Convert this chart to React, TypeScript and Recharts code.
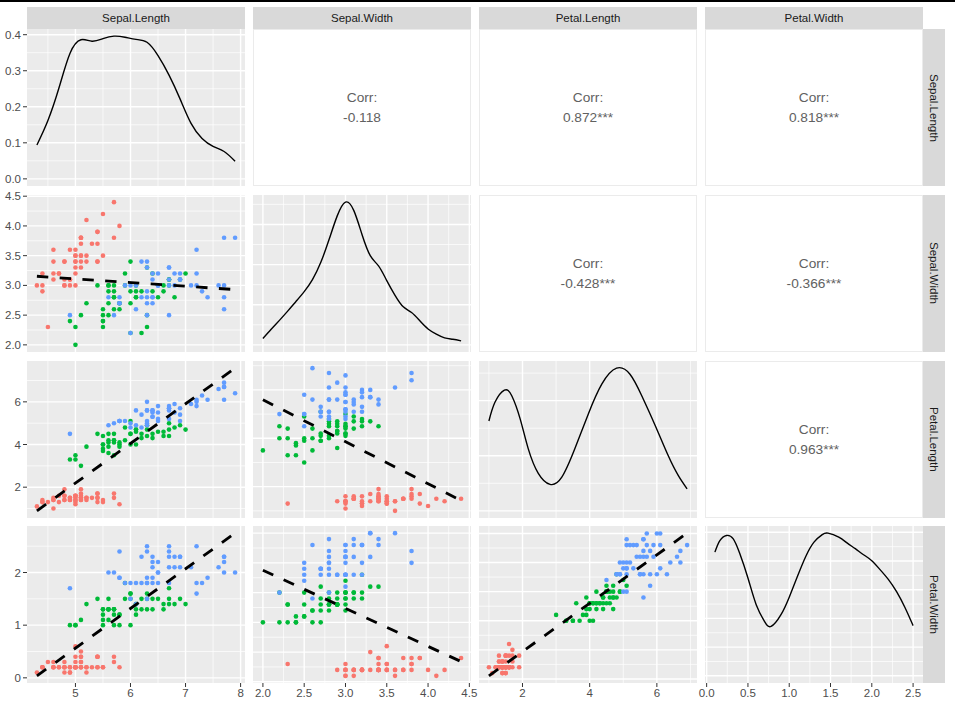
import React from 'react';
import { ComposedChart, Scatter, Line, XAxis, YAxis, CartesianGrid } from 'recharts';

// Edgar Anderson's iris measurements, rows 1-150 (50 setosa, 50 versicolor, 50 virginica)
const sepalLength = [
  5.1, 4.9, 4.7, 4.6, 5.0, 5.4, 4.6, 5.0, 4.4, 4.9, 5.4, 4.8, 4.8, 4.3, 5.8, 5.7, 5.4, 5.1, 5.7, 5.1,
  5.4, 5.1, 4.6, 5.1, 4.8, 5.0, 5.0, 5.2, 5.2, 4.7, 4.8, 5.4, 5.2, 5.5, 4.9, 5.0, 5.5, 4.9, 4.4, 5.1,
  5.0, 4.5, 4.4, 5.0, 5.1, 4.8, 5.1, 4.6, 5.3, 5.0,
  7.0, 6.4, 6.9, 5.5, 6.5, 5.7, 6.3, 4.9, 6.6, 5.2, 5.0, 5.9, 6.0, 6.1, 5.6, 6.7, 5.6, 5.8, 6.2, 5.6,
  5.9, 6.1, 6.3, 6.1, 6.4, 6.6, 6.8, 6.7, 6.0, 5.7, 5.5, 5.5, 5.8, 6.0, 5.4, 6.0, 6.7, 6.3, 5.6, 5.5,
  5.5, 6.1, 5.8, 5.0, 5.6, 5.7, 5.7, 6.2, 5.1, 5.7,
  6.3, 5.8, 7.1, 6.3, 6.5, 7.6, 4.9, 7.3, 6.7, 7.2, 6.5, 6.4, 6.8, 5.7, 5.8, 6.4, 6.5, 7.7, 7.7, 6.0,
  6.9, 5.6, 7.7, 6.3, 6.7, 7.2, 6.2, 6.1, 6.4, 7.2, 7.4, 7.9, 6.4, 6.3, 6.1, 7.7, 6.3, 6.4, 6.0, 6.9,
  6.7, 6.9, 5.8, 6.8, 6.7, 6.7, 6.3, 6.5, 6.2, 5.9,
];

const sepalWidth = [
  3.5, 3.0, 3.2, 3.1, 3.6, 3.9, 3.4, 3.4, 2.9, 3.1, 3.7, 3.4, 3.0, 3.0, 4.0, 4.4, 3.9, 3.5, 3.8, 3.8,
  3.4, 3.7, 3.6, 3.3, 3.4, 3.0, 3.4, 3.5, 3.4, 3.2, 3.1, 3.4, 4.1, 4.2, 3.1, 3.2, 3.5, 3.6, 3.0, 3.4,
  3.5, 2.3, 3.2, 3.5, 3.8, 3.0, 3.8, 3.2, 3.7, 3.3,
  3.2, 3.2, 3.1, 2.3, 2.8, 2.8, 3.3, 2.4, 2.9, 2.7, 2.0, 3.0, 2.2, 2.9, 2.9, 3.1, 3.0, 2.7, 2.2, 2.5,
  3.2, 2.8, 2.5, 2.8, 2.9, 3.0, 2.8, 3.0, 2.9, 2.6, 2.4, 2.4, 2.7, 2.7, 3.0, 3.4, 3.1, 2.3, 3.0, 2.5,
  2.6, 3.0, 2.6, 2.3, 2.7, 3.0, 2.9, 2.9, 2.5, 2.8,
  3.3, 2.7, 3.0, 2.9, 3.0, 3.0, 2.5, 2.9, 2.5, 3.6, 3.2, 2.7, 3.0, 2.5, 2.8, 3.2, 3.0, 3.8, 2.6, 2.2,
  3.2, 2.8, 2.8, 2.7, 3.3, 3.2, 2.8, 3.0, 2.8, 3.0, 2.8, 3.8, 2.8, 2.8, 2.6, 3.0, 3.4, 3.1, 3.0, 3.1,
  3.1, 3.1, 2.7, 3.2, 3.3, 3.0, 2.5, 3.0, 3.4, 3.0,
];

const petalLength = [
  1.4, 1.4, 1.3, 1.5, 1.4, 1.7, 1.4, 1.5, 1.4, 1.5, 1.5, 1.6, 1.4, 1.1, 1.2, 1.5, 1.3, 1.4, 1.7, 1.5,
  1.7, 1.5, 1.0, 1.7, 1.9, 1.6, 1.6, 1.5, 1.4, 1.6, 1.6, 1.5, 1.5, 1.4, 1.5, 1.2, 1.3, 1.4, 1.3, 1.5,
  1.3, 1.3, 1.3, 1.6, 1.9, 1.4, 1.6, 1.4, 1.5, 1.4,
  4.7, 4.5, 4.9, 4.0, 4.6, 4.5, 4.7, 3.3, 4.6, 3.9, 3.5, 4.2, 4.0, 4.7, 3.6, 4.4, 4.5, 4.1, 4.5, 3.9,
  4.8, 4.0, 4.9, 4.7, 4.3, 4.4, 4.8, 5.0, 4.5, 3.5, 3.8, 3.7, 3.9, 5.1, 4.5, 4.5, 4.7, 4.4, 4.1, 4.0,
  4.4, 4.6, 4.0, 3.3, 4.2, 4.2, 4.2, 4.3, 3.0, 4.1,
  6.0, 5.1, 5.9, 5.6, 5.8, 6.6, 4.5, 6.3, 5.8, 6.1, 5.1, 5.3, 5.5, 5.0, 5.1, 5.3, 5.5, 6.7, 6.9, 5.0,
  5.7, 4.9, 6.7, 4.9, 5.7, 6.0, 4.8, 4.9, 5.6, 5.8, 6.1, 6.4, 5.6, 5.1, 5.6, 6.1, 5.6, 5.5, 4.8, 5.4,
  5.6, 5.1, 5.1, 5.9, 5.7, 5.2, 5.0, 5.2, 5.4, 5.1,
];

const petalWidth = [
  0.2, 0.2, 0.2, 0.2, 0.2, 0.4, 0.3, 0.2, 0.2, 0.1, 0.2, 0.2, 0.1, 0.1, 0.2, 0.4, 0.4, 0.3, 0.3, 0.3,
  0.2, 0.4, 0.2, 0.5, 0.2, 0.2, 0.4, 0.2, 0.2, 0.2, 0.2, 0.4, 0.1, 0.2, 0.2, 0.2, 0.2, 0.1, 0.2, 0.2,
  0.3, 0.3, 0.2, 0.6, 0.4, 0.3, 0.2, 0.2, 0.2, 0.2,
  1.4, 1.5, 1.5, 1.3, 1.5, 1.3, 1.6, 1.0, 1.3, 1.4, 1.0, 1.5, 1.0, 1.4, 1.3, 1.4, 1.5, 1.0, 1.5, 1.1,
  1.8, 1.3, 1.5, 1.2, 1.3, 1.4, 1.4, 1.7, 1.5, 1.0, 1.1, 1.0, 1.2, 1.6, 1.5, 1.6, 1.5, 1.3, 1.3, 1.3,
  1.2, 1.4, 1.2, 1.0, 1.3, 1.2, 1.3, 1.3, 1.1, 1.3,
  2.5, 1.9, 2.1, 1.8, 2.2, 2.1, 1.7, 1.8, 1.8, 2.5, 2.0, 1.9, 2.1, 2.0, 2.4, 2.3, 1.8, 2.2, 2.3, 1.5,
  2.3, 2.0, 2.0, 1.8, 2.1, 1.8, 1.8, 1.8, 2.1, 1.6, 1.9, 2.0, 2.2, 1.5, 1.4, 2.3, 2.4, 1.8, 1.8, 2.1,
  2.4, 2.3, 1.9, 2.3, 2.5, 2.3, 1.9, 2.0, 2.3, 1.8,
];

const speciesNames = ['setosa', 'versicolor', 'virginica'];
const speciesColors = ['#F8766D', '#00BA38', '#619CFF'];
const variableNames = ['Sepal.Length', 'Sepal.Width', 'Petal.Length', 'Petal.Width'];

// kernel density curves on the diagonal (x, density)
const sepalLengthDensX = [4.3, 4.5, 4.7, 4.9, 5.1, 5.3, 5.5, 5.7, 5.9, 6.1, 6.3, 6.5, 6.7, 6.9, 7.1, 7.3, 7.5, 7.7, 7.9];
const sepalLengthDensY = [0.094, 0.162, 0.252, 0.348, 0.386, 0.382, 0.389, 0.396, 0.393, 0.387, 0.379, 0.342, 0.288, 0.222, 0.154, 0.112, 0.09, 0.076, 0.049];

const sepalWidthDensX = [2.0, 2.1, 2.2, 2.3, 2.4, 2.5, 2.6, 2.7, 2.8, 2.9, 3.0, 3.1, 3.2, 3.3, 3.4, 3.5, 3.6, 3.7, 3.8, 3.9, 4.0, 4.1, 4.2, 4.3, 4.4];
const sepalWidthDensY = [0.047, 0.116, 0.183, 0.252, 0.324, 0.398, 0.488, 0.615, 0.785, 0.964, 1.067, 1.005, 0.825, 0.667, 0.59, 0.48, 0.37, 0.284, 0.242, 0.18, 0.119, 0.08, 0.052, 0.042, 0.03];

const petalLengthDensX = [1.0, 1.18, 1.46, 1.68, 1.93, 2.17, 2.47, 2.82, 3.17, 3.56, 3.96, 4.36, 4.8, 5.2, 5.55, 5.95, 6.34, 6.64, 6.9];
const petalLengthDensY = [0.163, 0.197, 0.219, 0.209, 0.167, 0.113, 0.068, 0.048, 0.061, 0.113, 0.176, 0.23, 0.259, 0.248, 0.209, 0.155, 0.1, 0.064, 0.04];

const petalWidthDensX = [0.1, 0.16, 0.24, 0.32, 0.4, 0.5, 0.6, 0.7, 0.78, 0.9, 1.0, 1.1, 1.2, 1.3, 1.4, 1.47, 1.6, 1.7, 1.8, 1.9, 2.0, 2.1, 2.2, 2.3, 2.4, 2.5];
const petalWidthDensY = [0.431, 0.471, 0.489, 0.478, 0.427, 0.341, 0.248, 0.19, 0.172, 0.213, 0.274, 0.347, 0.416, 0.466, 0.492, 0.497, 0.483, 0.463, 0.443, 0.422, 0.401, 0.37, 0.336, 0.293, 0.239, 0.175];

// lm fits, [x, fitted y] at both ends of the x range
const fitSepalWidthBySepalLength = [[4.3, 3.153], [7.9, 2.93]];
const fitPetalLengthBySepalLength = [[4.3, 0.89], [7.9, 7.58]];
const fitPetalWidthBySepalLength = [[4.3, 0.037], [7.9, 2.748]];
const fitPetalLengthBySepalWidth = [[2.0, 5.593], [4.4, 1.429]];
const fitPetalWidthBySepalWidth = [[2.0, 1.876], [4.4, 0.34]];
const fitPetalWidthByPetalLength = [[1.0, 0.053], [6.9, 2.506]];

const corrLabels = ['-0.118', '0.872***', '0.818***', '-0.428***', '-0.366***', '0.963***'];

const measures = [sepalLength, sepalWidth, petalLength, petalWidth];
const densX = [sepalLengthDensX, sepalWidthDensX, petalLengthDensX, petalWidthDensX];
const densY = [sepalLengthDensY, sepalWidthDensY, petalLengthDensY, petalWidthDensY];
const fits: Record<string, number[][]> = {
  '1-0': fitSepalWidthBySepalLength,
  '2-0': fitPetalLengthBySepalLength,
  '3-0': fitPetalWidthBySepalLength,
  '2-1': fitPetalLengthBySepalWidth,
  '3-1': fitPetalWidthBySepalWidth,
  '3-2': fitPetalWidthByPetalLength,
};

// layout
const FONT = '"Liberation Sans", Arial, Helvetica, sans-serif';
const PANEL_LEFT = [27, 253, 479, 705];
const PANEL_TOP = [29, 195, 361, 526];
const PANEL_W = 218;
const PANEL_H = 157;
const AXIS_W = 27;
const AXIS_H = 26;

type Fmt = (v: number) => string;
const fmt1: Fmt = (v) => v.toFixed(1);
const fmt0: Fmt = (v) => String(v);

interface Scale {
  domain: [number, number];
  major: number[];
  minor: number[];
  fmt: Fmt;
}

const colScales: Scale[] = [
  { domain: [4.12, 8.08], major: [5, 6, 7, 8], minor: [4.5, 5.5, 6.5, 7.5], fmt: fmt0 },
  { domain: [1.88, 4.52], major: [2, 2.5, 3, 3.5, 4, 4.5], minor: [2.25, 2.75, 3.25, 3.75, 4.25], fmt: fmt1 },
  { domain: [0.705, 7.195], major: [2, 4, 6], minor: [1, 3, 5, 7], fmt: fmt0 },
  { domain: [-0.02, 2.62], major: [0, 0.5, 1, 1.5, 2, 2.5], minor: [0.25, 0.75, 1.25, 1.75, 2.25], fmt: fmt1 },
];

// y scale for every lower / diagonal panel, keyed "row-col"
const panelYScales: Record<string, Scale> = {
  '0-0': { domain: [-0.0198, 0.4158], major: [0, 0.1, 0.2, 0.3, 0.4], minor: [0.05, 0.15, 0.25, 0.35], fmt: fmt1 },
  '1-0': { domain: [1.88, 4.52], major: [2, 2.5, 3, 3.5, 4, 4.5], minor: [2.25, 2.75, 3.25, 3.75, 4.25], fmt: fmt1 },
  '1-1': { domain: [-0.0534, 1.12], major: [0, 0.3, 0.6, 0.9], minor: [0.15, 0.45, 0.75, 1.05], fmt: fmt1 },
  '2-0': { domain: [0.5553, 7.9147], major: [2, 4, 6], minor: [1, 3, 5, 7], fmt: fmt0 },
  '2-1': { domain: [0.705, 7.195], major: [2, 4, 6], minor: [1, 3, 5, 7], fmt: fmt0 },
  '2-2': { domain: [-0.013, 0.272], major: [0, 0.1, 0.2], minor: [0.05, 0.15, 0.25], fmt: fmt1 },
  '3-0': { domain: [-0.0982, 2.8833], major: [0, 1, 2], minor: [0.5, 1.5, 2.5], fmt: fmt0 },
  '3-1': { domain: [-0.02, 2.62], major: [0, 0.5, 1, 1.5, 2, 2.5], minor: [0.25, 0.75, 1.25, 1.75, 2.25], fmt: fmt1 },
  '3-2': { domain: [-0.07, 2.628], major: [0, 0.5, 1, 1.5, 2, 2.5], minor: [0.25, 0.75, 1.25, 1.75, 2.25], fmt: fmt1 },
  '3-3': { domain: [-0.025, 0.522], major: [0, 0.1, 0.2, 0.3, 0.4, 0.5], minor: [0.05, 0.15, 0.25, 0.35, 0.45], fmt: fmt1 },
};

const tickStyle = { fill: '#4D4D4D', fontSize: 11.5, fontFamily: FONT };

const dot = (color: string) => (p: any) => <circle cx={p.cx} cy={p.cy} r={2.3} fill={color} />;

function renderPanel(row: number, col: number) {
  const showX = row === 3;
  const showY = col === 0;
  const xs = colScales[col];
  const ys = panelYScales[`${row}-${col}`];
  const width = PANEL_W + (showY ? AXIS_W : 0);
  const height = PANEL_H + (showX ? AXIS_H : 0);
  const left = PANEL_LEFT[col] - (showY ? AXIS_W : 0);

  const series: React.ReactNode[] = [];
  if (row === col) {
    const pts = densX[col].map((x, i) => ({ x, y: densY[col][i] }));
    series.push(
      <Line
        key="dens"
        data={pts}
        dataKey="y"
        type="natural"
        stroke="#000"
        strokeWidth={1.4}
        dot={false}
        isAnimationActive={false}
      />
    );
  } else {
    const xv = measures[col];
    const yv = measures[row];
    speciesNames.forEach((name, s) => {
      const pts = xv
        .map((x, i) => ({ x, y: yv[i], sp: Math.floor(i / 50) }))
        .filter((d) => d.sp === s);
      series.push(
        <Scatter
          key={name}
          name={name}
          data={pts}
          fill={speciesColors[s]}
          shape={dot(speciesColors[s])}
          isAnimationActive={false}
        />
      );
    });
    const fit = fits[`${row}-${col}`].map(([x, y]) => ({ x, y }));
    series.push(
      <Line
        key="fit"
        data={fit}
        dataKey="y"
        type="linear"
        stroke="#000"
        strokeWidth={2.85}
        strokeDasharray="11.4 11.4"
        strokeLinecap="butt"
        dot={false}
        isAnimationActive={false}
        zIndex={700}
      />
    );
  }

  return (
    <div key={`p-${row}-${col}`} style={{ position: 'absolute', left, top: PANEL_TOP[row] }}>
      <ComposedChart width={width} height={height} margin={{ top: 0, right: 0, bottom: 0, left: 0 }}>
        <CartesianGrid
          fill="#EBEBEB"
          stroke="#FFFFFF"
          strokeWidth={0.7}
          horizontalValues={ys.minor}
          verticalValues={xs.minor}
        />
        <CartesianGrid
          stroke="#FFFFFF"
          strokeWidth={1.4}
          horizontalValues={ys.major}
          verticalValues={xs.major}
        />
        <XAxis
          type="number"
          dataKey="x"
          domain={xs.domain}
          allowDataOverflow
          ticks={xs.major}
          interval={0}
          tickFormatter={xs.fmt}
          hide={!showX}
          height={AXIS_H}
          axisLine={false}
          tickSize={4}
          tickMargin={2}
          tickLine={{ stroke: '#333333' }}
          tick={tickStyle}
        />
        <YAxis
          type="number"
          dataKey="y"
          domain={ys.domain}
          allowDataOverflow
          ticks={ys.major}
          interval={0}
          tickFormatter={ys.fmt}
          hide={!showY}
          width={AXIS_W}
          axisLine={false}
          tickSize={4}
          tickMargin={2}
          tickLine={{ stroke: '#333333' }}
          tick={tickStyle}
        />
        {series}
      </ComposedChart>
    </div>
  );
}

function renderCorr(row: number, col: number, label: string) {
  return (
    <div
      key={`c-${row}-${col}`}
      style={{
        position: 'absolute',
        left: PANEL_LEFT[col],
        top: PANEL_TOP[row],
        width: PANEL_W,
        height: PANEL_H,
        boxSizing: 'border-box',
        border: '1px solid #EBEBEB',
        background: '#FFFFFF',
        display: 'flex',
        flexDirection: 'column',
        alignItems: 'center',
        justifyContent: 'center',
        color: '#616161',
        fontSize: 13.7,
        lineHeight: '20px',
        fontFamily: FONT,
      }}
    >
      <div>Corr:</div>
      <div>{label}</div>
    </div>
  );
}

export default function App() {
  const panels: React.ReactNode[] = [];
  let k = 0;
  for (let r = 0; r < 4; r++) {
    for (let c = 0; c < 4; c++) {
      if (c > r) {
        panels.push(renderCorr(r, c, corrLabels[k]));
        k++;
      } else {
        panels.push(renderPanel(r, c));
      }
    }
  }

  const stripText = { color: '#1A1A1A', fontSize: 11.5, fontFamily: FONT };

  return (
    <div style={{ position: 'absolute', left: 0, top: 0, width: 955, height: 708, background: '#FFFFFF', overflow: 'hidden' }}>
      <style>{'.recharts-surface, .recharts-wrapper { overflow: visible !important; }'}</style>
      <div style={{ position: 'absolute', left: 0, top: 0, width: 955, height: 2, background: '#000000' }} />
      {variableNames.map((name, c) => (
        <div
          key={`top-${name}`}
          style={{
            position: 'absolute',
            left: PANEL_LEFT[c],
            top: 7,
            width: PANEL_W,
            height: 22,
            background: '#D9D9D9',
            display: 'flex',
            alignItems: 'center',
            justifyContent: 'center',
            ...stripText,
          }}
        >
          {name}
        </div>
      ))}
      {variableNames.map((name, r) => (
        <div
          key={`right-${name}`}
          style={{
            position: 'absolute',
            left: PANEL_LEFT[3] + PANEL_W,
            top: PANEL_TOP[r],
            width: 22,
            height: PANEL_H,
            background: '#D9D9D9',
            display: 'flex',
            alignItems: 'center',
            justifyContent: 'center',
            writingMode: 'vertical-rl',
            ...stripText,
          }}
        >
          {name}
        </div>
      ))}
      {panels}
    </div>
  );
}
